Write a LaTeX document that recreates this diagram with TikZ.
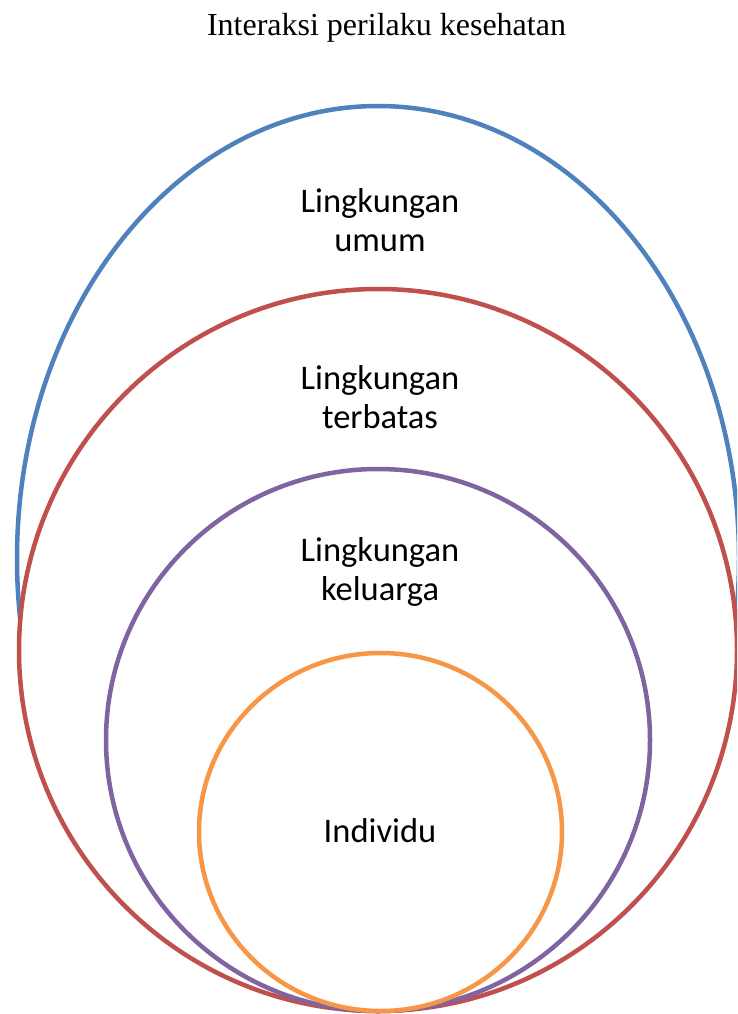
\documentclass[tikz,border=0pt]{standalone}
\usepackage{fontspec}
\setmainfont{Liberation Serif}
\newfontfamily\lblfont{Carlito}
\definecolor{cblue}{HTML}{4F81BD}
\definecolor{cred}{HTML}{C0504D}
\definecolor{cpurple}{HTML}{8064A2}
\definecolor{corange}{HTML}{F79646}
\begin{document}
\begin{tikzpicture}[x=1pt,y=-1pt,
  ring/.style={line width=4.5pt, fill=white},
  lbl/.style={font=\lblfont\fontsize{34.5}{39}\selectfont, align=center, inner sep=0pt},
  ttl/.style={font=\fontsize{32}{36}\selectfont, inner sep=0pt}]
\useasboundingbox (0,0) rectangle (737,1014);
\clip (0,0) rectangle (737,1014);
\node[ttl] (title) at (386.5,28) {Interaksi perilaku kesehatan};
\draw[ring, draw=cblue] (378,558.5) ellipse [x radius=361, y radius=452.5];
\draw[ring, draw=cred] (378,650) ellipse [x radius=359, y radius=361];
\draw[ring, draw=cpurple] (378,740) ellipse [x radius=272, y radius=271];
\draw[ring, draw=corange] (380.5,832) ellipse [x radius=181.5, y radius=179];
\node[lbl] (umum) at (380,220) {Lingkungan\\umum};
\node[lbl] (terbatas) at (380,397) {Lingkungan\\terbatas};
\node[lbl] (keluarga) at (380,572) {Lingkungan\\keluarga};
\node[lbl] (individu) at (380,831) {Individu};
\end{tikzpicture}
\end{document}
